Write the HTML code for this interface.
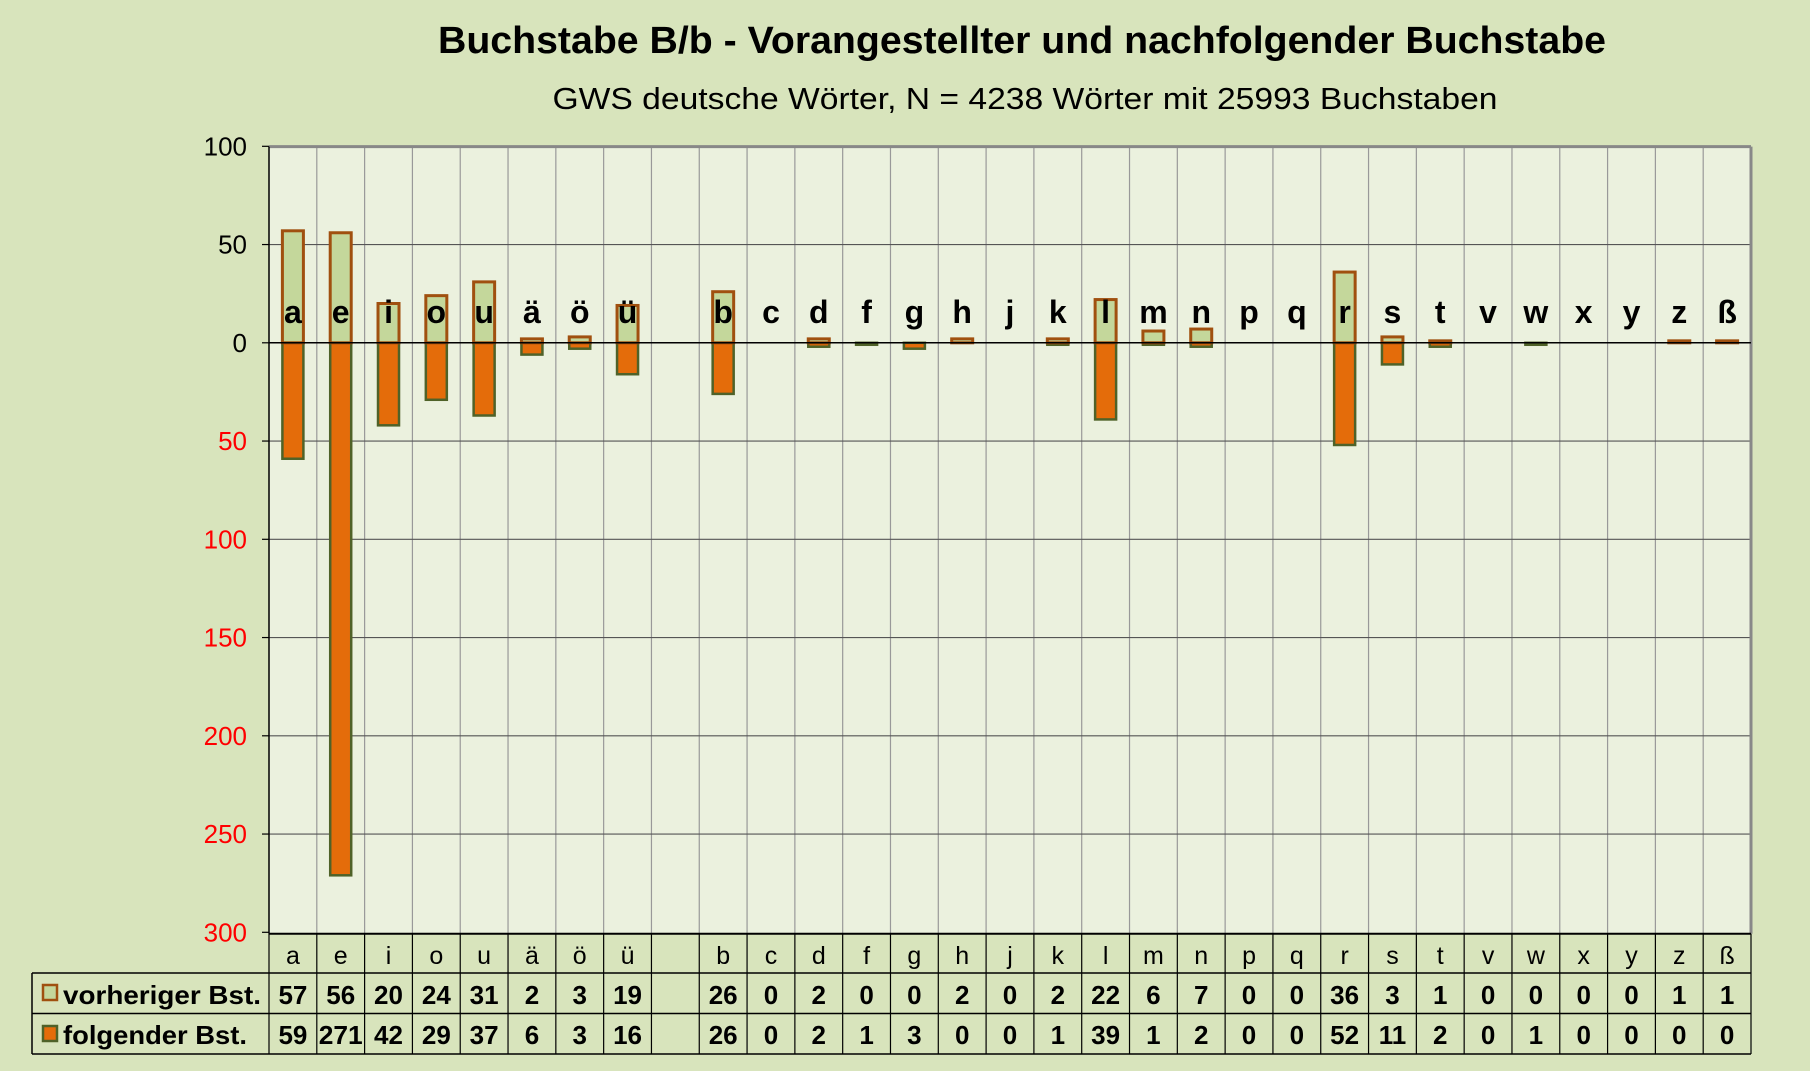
<!DOCTYPE html>
<html><head><meta charset="utf-8"><style>
body{margin:0;background:#d8e4bc;}
svg{display:block;font-family:"Liberation Sans",Arial,sans-serif;}
</style></head><body>
<svg id="s" width="1810" height="1071" xmlns="http://www.w3.org/2000/svg">
<rect width="1810" height="1071" fill="#d8e4bc"/>
<text x="1022" y="53" font-size="38" font-weight="bold" text-anchor="middle" textLength="1168" lengthAdjust="spacingAndGlyphs">Buchstabe B/b - Vorangestellter und nachfolgender Buchstabe</text>
<text x="1025" y="109" font-size="31" text-anchor="middle" textLength="945" lengthAdjust="spacingAndGlyphs">GWS deutsche Wörter, N = 4238 Wörter mit 25993 Buchstaben</text>
<g id="g"></g>
</svg>
<script>
var L=269,R=1751,T=146.6,B=933.8,Z=342.8,U=1.965;
var letters=["a","e","i","o","u","ä","ö","ü","","b","c","d","f","g","h","j","k","l","m","n","p","q","r","s","t","v","w","x","y","z","ß"];
var pre=[57,56,20,24,31,2,3,19,null,26,0,2,0,0,2,0,2,22,6,7,0,0,36,3,1,0,0,0,0,1,1];
var fol=[59,271,42,29,37,6,3,16,null,26,0,2,1,3,0,0,1,39,1,2,0,0,52,11,2,0,1,0,0,0,0];
var n=31,W=(R-L)/n,h='';
h+='<rect x="'+L+'" y="'+T+'" width="'+(R-L)+'" height="'+(B-T)+'" fill="#ebf1de"/>';
for(var i=1;i<n;i++){var x=L+i*W;h+='<line x1="'+x+'" y1="'+T+'" x2="'+x+'" y2="'+B+'" stroke="#999" stroke-width="1.2"/>';}
var ticks=[100,50,0,-50,-100,-150,-200,-250,-300];
ticks.forEach(function(v){var y=Z-v*U;
 if(v!=100&&v!=-300&&v!=0)h+='<line x1="'+L+'" y1="'+y+'" x2="'+R+'" y2="'+y+'" stroke="#555" stroke-width="1.2"/>';
 h+='<line x1="262" y1="'+y+'" x2="'+L+'" y2="'+y+'" stroke="#000" stroke-width="1.2"/>';
 h+='<text x="247" y="'+(y+9)+'" font-size="26" text-anchor="end" fill="'+(v<0?'#ff0000':'#000')+'">'+Math.abs(v)+'</text>';});
h+='<line x1="'+L+'" y1="'+T+'" x2="'+R+'" y2="'+T+'" stroke="#888" stroke-width="3"/>';
h+='<line x1="'+R+'" y1="'+T+'" x2="'+R+'" y2="'+B+'" stroke="#888" stroke-width="3"/>';
h+='<line x1="'+L+'" y1="'+T+'" x2="'+L+'" y2="'+B+'" stroke="#000" stroke-width="1.5"/>';
var bw=21;
for(var i=0;i<n;i++){if(pre[i]===null)continue;var cx=L+(i+0.5)*W;
 var f=fol[i];if(f>0)h+='<rect x="'+(cx-bw/2)+'" y="'+Z+'" width="'+bw+'" height="'+(f*U)+'" fill="#e46c0a" stroke="#4f6228" stroke-width="2.5"/>';
 var p=pre[i];if(p>0)h+='<rect x="'+(cx-bw/2)+'" y="'+(Z-p*U)+'" width="'+bw+'" height="'+(p*U)+'" fill="#c4d79b" stroke="#a0500f" stroke-width="3"/>';
 h+='<text x="'+cx+'" y="323" font-size="32" font-weight="bold" text-anchor="middle">'+letters[i]+'</text>';}
h+='<line x1="'+L+'" y1="'+Z+'" x2="'+R+'" y2="'+Z+'" stroke="#000" stroke-width="1.5"/>';
h+='<line x1="'+L+'" y1="'+B+'" x2="'+R+'" y2="'+B+'" stroke="#000" stroke-width="2"/>';
var r1=B,r2=973,r3=1013.5,r4=1054,TL=32;
h+='<line x1="'+TL+'" y1="'+r2+'" x2="'+R+'" y2="'+r2+'" stroke="#000" stroke-width="1.5"/>';
h+='<line x1="'+TL+'" y1="'+r3+'" x2="'+R+'" y2="'+r3+'" stroke="#000" stroke-width="1.5"/>';
h+='<line x1="'+TL+'" y1="'+r4+'" x2="'+R+'" y2="'+r4+'" stroke="#000" stroke-width="1.5"/>';
h+='<line x1="'+TL+'" y1="'+r2+'" x2="'+TL+'" y2="'+r4+'" stroke="#000" stroke-width="1.5"/>';
for(var i=0;i<=n;i++){var x=L+i*W;h+='<line x1="'+x+'" y1="'+r1+'" x2="'+x+'" y2="'+r4+'" stroke="#000" stroke-width="1.2"/>';}
for(var i=0;i<n;i++){var cx=L+(i+0.5)*W;
 h+='<text x="'+cx+'" y="964" font-size="25" text-anchor="middle">'+letters[i]+'</text>';
 if(pre[i]!==null){
 h+='<text x="'+cx+'" y="1004" font-size="26" font-weight="bold" text-anchor="middle">'+pre[i]+'</text>';
 h+='<text x="'+cx+'" y="1044" font-size="26" font-weight="bold" text-anchor="middle"'+(fol[i]>99?' textLength="44" lengthAdjust="spacingAndGlyphs"':'')+'>'+fol[i]+'</text>';}}
h+='<rect x="43" y="985" width="14" height="15" fill="#c4d79b" stroke="#a0500f" stroke-width="2.5"/>';
h+='<text x="63" y="1004" font-size="26" font-weight="bold" textLength="198" lengthAdjust="spacingAndGlyphs">vorheriger Bst.</text>';
h+='<rect x="43" y="1026" width="14" height="15" fill="#e46c0a" stroke="#4f6228" stroke-width="2.5"/>';
h+='<text x="63" y="1044" font-size="26" font-weight="bold" textLength="184" lengthAdjust="spacingAndGlyphs">folgender Bst.</text>';
document.getElementById('g').innerHTML=h;
</script>
</body></html>
